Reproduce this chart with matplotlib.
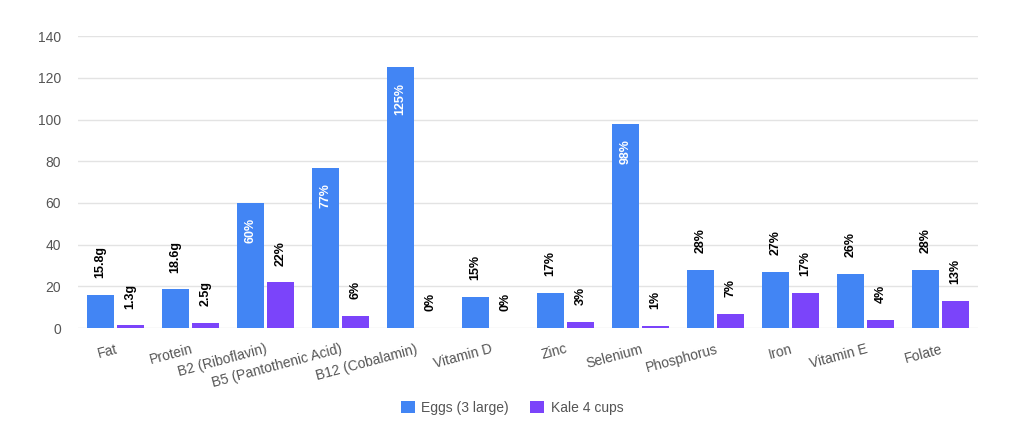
import numpy as np
import matplotlib.pyplot as plt

categories = ['Fat', 'Protein', 'B2 (Riboflavin)', 'B5 (Pantothenic Acid)', 'B12 (Cobalamin)',
              'Vitamin D', 'Zinc', 'Selenium', 'Phosphorus', 'Iron', 'Vitamin E', 'Folate']
eggs = [15.8, 18.6, 60, 77, 125, 15, 17, 98, 28, 27, 26, 28]
kale = [1.3, 2.5, 22, 6, 0, 0, 3, 1, 7, 17, 4, 13]
eggs_labels = ['15.8g', '18.6g', '60%', '77%', '125%', '15%', '17%', '98%', '28%', '27%', '26%', '28%']
kale_labels = ['1.3g', '2.5g', '22%', '6%', '0%', '0%', '3%', '1%', '7%', '17%', '4%', '13%']

plt.rcParams['font.family'] = ['Liberation Sans', 'DejaVu Sans']

fig = plt.figure(figsize=(10.24, 4.41), dpi=100)
ax = fig.add_axes([0.076, 0.256, 0.879, 0.662])

x = np.arange(len(categories))
w = 0.36
blue = '#4285F4'
purple = '#7B44FA'
b1 = ax.bar(x - 0.2, eggs, w, color=blue, label='Eggs (3 large)', zorder=3)
b2 = ax.bar(x + 0.2, kale, w, color=purple, label='Kale 4 cups', zorder=3)

for xi, v, s in zip(x - 0.2, eggs, eggs_labels):
    if v > 50:
        ax.annotate(s, (xi, v), xytext=(0, -11), textcoords='offset points', rotation=90,
                    ha='center', va='top', color='white', fontsize=9, fontweight='bold', zorder=4)
    else:
        ax.annotate(s, (xi, v), xytext=(0, 12), textcoords='offset points', rotation=90,
                    ha='center', va='bottom', color='black', fontsize=9, fontweight='bold', zorder=4)
for xi, v, s in zip(x + 0.2, kale, kale_labels):
    ax.annotate(s, (xi, v), xytext=(0, 12), textcoords='offset points', rotation=90,
                ha='center', va='bottom', color='black', fontsize=9, fontweight='bold', zorder=4)

ax.set_xlim(-0.5, len(categories) - 0.5)
ax.set_ylim(0, 140)
ax.set_yticks(range(0, 141, 20))
ax.grid(axis='y', color='#e3e3e3', linewidth=1, zorder=0)
for sp in ax.spines.values():
    sp.set_visible(False)
ax.tick_params(axis='y', length=0, labelcolor='#555555', labelsize=10, pad=12)
ax.tick_params(axis='x', length=0, labelcolor='#555555', labelsize=10, pad=10)
ax.set_xticks(x)
ax.set_xticklabels(categories, rotation=15, ha='right', rotation_mode='anchor')

fig.legend(handles=[b1, b2], loc='center', bbox_to_anchor=(0.5, 0.075), ncol=2, frameon=False,
           fontsize=10, labelcolor='#555555', handlelength=1.0, handleheight=1.0,
           handletextpad=0.5, columnspacing=1.5)

fig.savefig('out.png', dpi=100)
